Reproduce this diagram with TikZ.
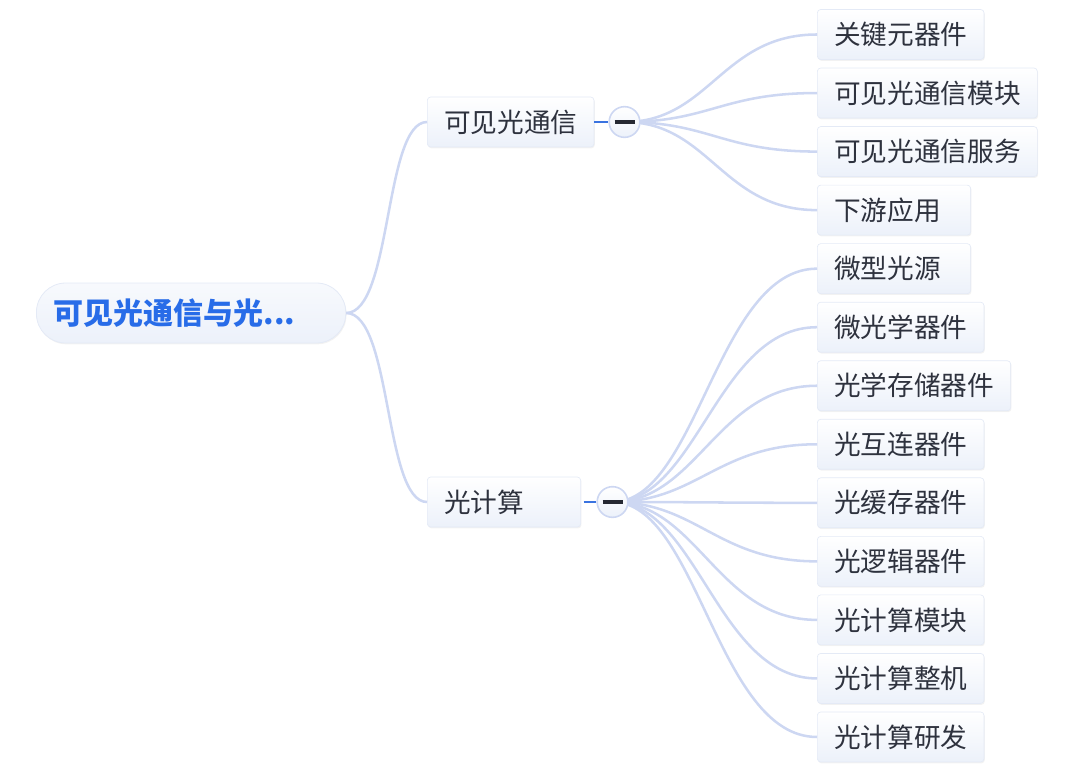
\documentclass[tikz,border=0pt]{standalone}
\usepackage{fontspec}
\newfontfamily\cjk{Noto Sans CJK SC}
\usetikzlibrary{shadows}

\definecolor{linkblue}{RGB}{205,215,242}
\definecolor{toggleblue}{RGB}{58,115,224}
\definecolor{rootblue}{RGB}{40,108,232}
\definecolor{boxbottom}{RGB}{236,241,250}
\definecolor{boxedge}{RGB}{228,234,246}
\definecolor{inkdark}{RGB}{46,50,62}

% left-aligned text in a box of at least 90pt
\newcommand\padtext[1]{\setbox0\hbox{#1}\ifdim\wd0<90pt\makebox[90pt][l]{#1}\else#1\fi}

\tikzset{
  link/.style={draw=linkblue, line width=1.9pt},
  topicbox/.style={rectangle, rounded corners=2.5pt, draw=boxedge, line width=0.5pt,
    top color=white, bottom color=boxbottom,
    drop shadow={opacity=0.10, shadow xshift=0.6pt, shadow yshift=-1pt},
    font=\cjk\fontsize{20pt}{24pt}\selectfont, text=inkdark,
    minimum height=37.5pt, inner xsep=12.5pt, inner ysep=0pt},
  leaf/.style={topicbox, anchor=west},
  roottopic/.style={rectangle, rounded corners=22pt, draw=boxedge, line width=0.6pt,
    top color=white!60!boxbottom, bottom color=boxbottom,
    drop shadow={opacity=0.10, shadow xshift=0.6pt, shadow yshift=-1pt},
    font=\cjk\bfseries\fontsize{22.5pt}{26pt}\selectfont, text=rootblue,
    minimum height=45pt, text width=206pt, align=left, inner xsep=13pt, anchor=west},
  toggle/.style={circle, draw=linkblue, line width=1.2pt, fill=white,
    top color=white, bottom color=boxbottom, minimum size=23pt, inner sep=0pt},
  toggleline/.style={draw=toggleblue, line width=2.2pt},
  minusbar/.style={draw=inkdark!80!black, line width=2.5pt}
}

\begin{document}
\begin{tikzpicture}[x=0.75pt,y=-0.75pt]
\useasboundingbox (0,0) rectangle (1080,781);

% Root and the two branches
\node[roottopic] (root) at (36,313) {可见光通信与光...};
\node[leaf] (vlc) at (427,122) {\padtext{可见光通信}};
\node[leaf] (oc) at (427,502) {\padtext{光计算}};

\draw[link] (root.east) .. controls (392,313) and (384,122) .. (vlc.west);
\draw[link] (root.east) .. controls (392,313) and (384,502) .. (oc.west);

% Leaves of the first branch
\coordinate (vlcfork) at (624.5,122);
\foreach \t [count=\i from 0] in {关键元器件,可见光通信模块,可见光通信服务,下游应用}{
  \node[leaf] (a\i) at (817,{34.5+58.54*\i}) {\padtext{\t}};
  \draw[link] (vlcfork) .. controls +(85,0) and +(-95,0) .. (a\i.west);
}

% Leaves of the second branch
\coordinate (ocfork) at (612.5,502);
\foreach \t [count=\i from 4] in {微型光源,微光学器件,光学存储器件,光互连器件,光缓存器件,光逻辑器件,光计算模块,光计算整机,光计算研发}{
  \node[leaf] (b\i) at (817,{34.5+58.54*\i}) {\padtext{\t}};
  \draw[link] (ocfork) .. controls +(85,0) and +(-100,0) .. (b\i.west);
}

% Collapse toggles
\node[toggle] (vlctoggle) at (vlcfork) {};
\node[toggle] (octoggle) at (ocfork) {};
\draw[toggleline] (vlc.east) -- (vlctoggle.west);
\draw[toggleline] ([xshift=2pt]oc.east) -- (octoggle.west);
\draw[minusbar] ([xshift=-7.5pt]vlctoggle.center) -- ([xshift=7.5pt]vlctoggle.center);
\draw[minusbar] ([xshift=-7.5pt]octoggle.center) -- ([xshift=7.5pt]octoggle.center);
\end{tikzpicture}
\end{document}
